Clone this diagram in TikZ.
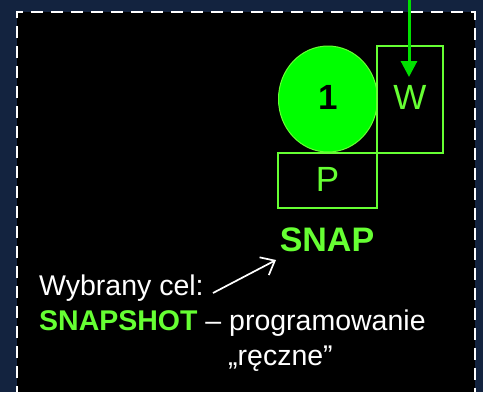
\documentclass[tikz,border=0pt]{standalone}
\usepackage{fontspec}
\setmainfont{Liberation Sans}
\usetikzlibrary{shapes.geometric,arrows.meta}
\definecolor{navy}{HTML}{13233F}
\definecolor{lime}{HTML}{66FF33}
\definecolor{brightgreen}{HTML}{00FF00}
\definecolor{arrowgreen}{HTML}{00E000}
\tikzset{
  outlinebox/.style={draw=lime, line width=1.3pt, rectangle, inner sep=0pt},
  bigletter/.style={font=\fontsize{35}{40}\selectfont},
  bodytext/.style={font=\fontsize{28.5}{32}\selectfont, text=white, inner sep=0pt, anchor=base west},
}
\begin{document}
\begin{tikzpicture}[x=1pt,y=-1pt]
\useasboundingbox (0,0) rectangle (483,392);
\fill[navy] (0,0) rectangle (483,392);
\fill[black] (17,12) rectangle (475,392);
\draw[white, line width=2.8pt, dash pattern=on 12pt off 8pt, dash phase=-2pt]
  (17,400) -- (17,12) -- (475,12) -- (475,400);

% shapes
\node[ellipse, fill=brightgreen, draw=lime, line width=1pt, minimum width=99pt, minimum height=106pt, inner sep=0pt,
      font=\fontsize{35}{40}\selectfont\bfseries, text=black] (one) at (328,99) {\raisebox{3.5pt}{1}};
\node[outlinebox, minimum width=66pt, minimum height=107pt, bigletter, text=lime] (wbox) at (410,99.5) {\raisebox{4pt}{W}};
\node[outlinebox, minimum width=99pt, minimum height=55pt, bigletter, text=lime] (pbox) at (327.5,180.5) {\raisebox{1.5pt}{P}};

% green arrow into W
\coordinate (gtop) at (409,-2);
\coordinate (gtip) at (409,77);
\draw[arrowgreen, line width=3pt, -{Triangle[length=16pt,width=16pt]}] (gtop) -- (gtip);

% SNAP label
\node[font=\fontsize{34}{38}\selectfont\bfseries, text=lime, inner sep=0pt, anchor=base] (snap) at (327,251) {SNAP};

% texts
\node[bodytext] (wyb) at (39,295) {Wybrany cel:};
\node[bodytext] (snapshot) at (39,330) {\textcolor{lime}{\bfseries SNAPSHOT} – programowanie};
\node[bodytext] (reczne) at (228,365) {„ręczne”};

% white arrow
\coordinate (wtail) at (213,293);
\coordinate (wtip) at (276,260);
\draw[white, line width=1.7pt, -{Straight Barb[length=12pt,width=20pt]}] (wtail) -- (wtip);
\end{tikzpicture}
\end{document}
